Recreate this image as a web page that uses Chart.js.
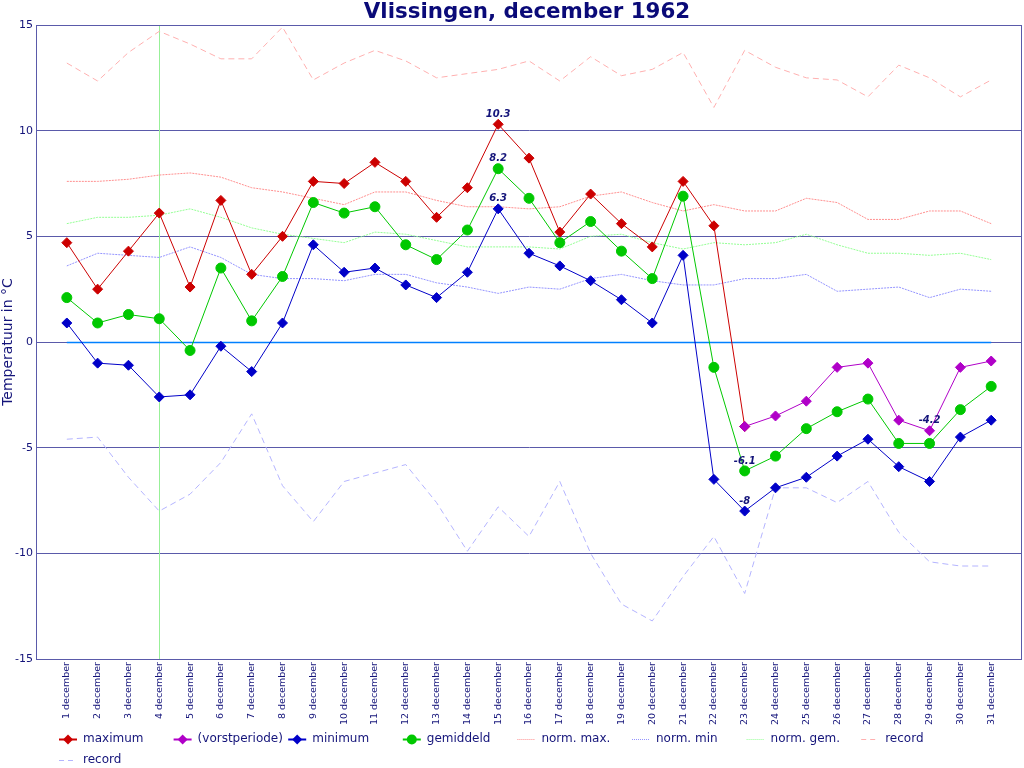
<!DOCTYPE html>
<html>
<head>
<meta charset="utf-8">
<script src="https://cdn.jsdelivr.net/npm/chart.js@4.4.0/dist/chart.umd.min.js"></script>
<style>
html,body{margin:0;padding:0;background:#fff;}
#wrap{width:1024px;height:768px;}
</style>
</head>
<body>
<div id="wrap"><canvas id="c" width="1024" height="768"></canvas></div>
<script>
// ---- data ----
const days = [1,2,3,4,5,6,7,8,9,10,11,12,13,14,15,16,17,18,19,20,21,22,23,24,25,26,27,28,29,30,31];
const dayLabels = days.map(d => d + ' december');
const maximum   = [4.7,2.5,4.3,6.1,2.6,6.7,3.2,5.0,7.6,7.5,8.5,7.6,5.9,7.3,10.3,8.7,5.2,7.0,5.6,4.5,7.6,5.5,-4.0,-3.5,-2.8,-1.2,-1.0,-3.7,-4.2,-1.2,-0.9];
const vorstStart = 23;
const minimum   = [0.9,-1.0,-1.1,-2.6,-2.5,-0.2,-1.4,0.9,4.6,3.3,3.5,2.7,2.1,3.3,6.3,4.2,3.6,2.9,2.0,0.9,4.1,-6.5,-8.0,-6.9,-6.4,-5.4,-4.6,-5.9,-6.6,-4.5,-3.7];
const gemiddeld = [2.1,0.9,1.3,1.1,-0.4,3.5,1.0,3.1,6.6,6.1,6.4,4.6,3.9,5.3,8.2,6.8,4.7,5.7,4.3,3.0,6.9,-1.2,-6.1,-5.4,-4.1,-3.3,-2.7,-4.8,-4.8,-3.2,-2.1];
const normMax   = [7.6,7.6,7.7,7.9,8.0,7.8,7.3,7.1,6.8,6.5,7.1,7.1,6.7,6.4,6.4,6.3,6.4,6.9,7.1,6.6,6.2,6.5,6.2,6.2,6.8,6.6,5.8,5.8,6.2,6.2,5.6];
const normMin   = [3.6,4.2,4.1,4.0,4.5,4.0,3.2,3.0,3.0,2.9,3.2,3.2,2.8,2.6,2.3,2.6,2.5,3.0,3.2,2.9,2.7,2.7,3.0,3.0,3.2,2.4,2.5,2.6,2.1,2.5,2.4];
const normGem   = [5.6,5.9,5.9,6.0,6.3,5.9,5.4,5.1,4.9,4.7,5.2,5.1,4.8,4.5,4.5,4.5,4.4,5.0,5.1,4.7,4.4,4.7,4.6,4.7,5.1,4.6,4.2,4.2,4.1,4.2,3.9];
const recordMax = [13.2,12.35,13.7,14.7,14.1,13.4,13.4,14.9,12.4,13.2,13.8,13.3,12.5,12.7,12.9,13.3,12.35,13.5,12.6,12.9,13.7,11.1,13.8,13.0,12.5,12.4,11.6,13.1,12.5,11.6,12.4];
const recordMin = [-4.6,-4.5,-6.4,-8.0,-7.2,-5.7,-3.4,-6.8,-8.5,-6.6,-6.2,-5.8,-7.6,-9.9,-7.8,-9.2,-6.6,-10.0,-12.4,-13.2,-11.1,-9.2,-11.9,-6.9,-6.9,-7.6,-6.6,-9.0,-10.4,-10.6,-10.6];
const yMin = -15, yMax = 15, yStep = 5;
const markerDay = 4;

// ---- helpers ----
const NAVY = '#14147a';
const GRID = '#5a5aaa';
const FONT = "'DejaVu Sans', sans-serif";
const pts = (arr, from, to) => days.map((d, i) => ({x: d, y: arr[i]})).filter(p => p.x >= (from || 1) && p.x <= (to || 31));

const datasets = [
  {label:'maximum', data: pts(maximum, 1, vorstStart), borderColor:'#cc0000', backgroundColor:'#cc0000',
   pointStyle:'rectRot', pointRadius:5, borderWidth:1, order:2},
  {label:'(vorstperiode)', data: pts(maximum, vorstStart, 31), borderColor:'#b000c8', backgroundColor:'#b000c8',
   pointStyle:'rectRot', pointRadius:5, borderWidth:1, order:1},
  {label:'minimum', data: pts(minimum), borderColor:'#0000c8', backgroundColor:'#0000c8',
   pointStyle:'rectRot', pointRadius:5, borderWidth:1, order:3},
  {label:'gemiddeld', data: pts(gemiddeld), borderColor:'#00c800', backgroundColor:'#00c800',
   pointStyle:'circle', pointRadius:5, borderWidth:1, order:4},
  {label:'norm. max.', data: pts(normMax), borderColor:'#ff8f8f', borderDash:[2,1], pointRadius:0, borderWidth:1, order:10},
  {label:'norm. min', data: pts(normMin), borderColor:'#9494ff', borderDash:[2,1], pointRadius:0, borderWidth:1, order:10},
  {label:'norm. gem.', data: pts(normGem), borderColor:'#94ff94', borderDash:[2,1], pointRadius:0, borderWidth:1, order:10},
  {label:'record', data: pts(recordMax), borderColor:'#ffb0b0', borderDash:[6,4], pointRadius:0, borderWidth:1, order:10},
  {label:'record', data: pts(recordMin), borderColor:'#b4b4ff', borderDash:[6,4], pointRadius:0, borderWidth:1, order:10}
];
datasets.forEach(ds => { ds.tension = 0; ds.fill = false; ds.pointBorderColor = ds.borderColor; ds.pointBackgroundColor = ds.backgroundColor || ds.borderColor; });

// plot frame, zero line, marker line, value labels, legend
const decoPlugin = {
  id: 'deco',
  afterLayout(chart) {
    const R = chart.width - 2, a = chart.chartArea, x = chart.scales.x;
    a.right = R; a.width = R - a.left;
    x.right = R; x.width = R - x.left;
    x.configure();
  },
  beforeDatasetsDraw(chart) {
    const {ctx, chartArea: a, scales: {x, y}} = chart;
    ctx.save();
    ctx.strokeStyle = '#98f098';
    ctx.lineWidth = 1;
    const vx = Math.round(x.getPixelForValue(markerDay)) + 0.5;
    ctx.beginPath(); ctx.moveTo(vx, a.top); ctx.lineTo(vx, a.bottom); ctx.stroke();
    const zy = Math.round(y.getPixelForValue(0)) + 0.5;
    ctx.strokeStyle = '#0080ff';
    ctx.lineWidth = 1.5;
    ctx.beginPath(); ctx.moveTo(x.getPixelForValue(days[0]), zy); ctx.lineTo(x.getPixelForValue(days[days.length-1]), zy); ctx.stroke();
    ctx.strokeStyle = GRID;
    ctx.lineWidth = 1;
    ctx.strokeRect(Math.round(a.left) + 0.5, Math.round(a.top) + 0.5, Math.round(a.right - a.left) - 1, Math.round(a.bottom - a.top));
    ctx.restore();
  },
  afterDatasetsDraw(chart) {
    const {ctx, scales: {x, y}} = chart;
    ctx.save();
    ctx.fillStyle = NAVY;
    ctx.font = "italic bold 10px " + FONT;
    ctx.textAlign = 'center';
    ctx.textBaseline = 'middle';
    [maximum, gemiddeld, minimum].forEach(arr => {
      let iMax = 0, iMin = 0;
      arr.forEach((v, i) => { if (v > arr[iMax]) iMax = i; if (v < arr[iMin]) iMin = i; });
      [iMax, iMin].forEach(i => {
        ctx.fillText(String(arr[i]), x.getPixelForValue(days[i]), y.getPixelForValue(arr[i]) - 10);
      });
    });
    ctx.restore();
  },
  afterDraw(chart) {
    const {ctx} = chart;
    ctx.save();
    const colW = 114.6, x0 = 59, rowY = [739, 760], perRow = 8;
    chart.data.datasets.forEach((ds, i) => {
      const col = i % perRow, row = Math.floor(i / perRow);
      const lx = x0 + col * colW, ly = rowY[row];
      ctx.strokeStyle = ds.borderColor;
      ctx.lineWidth = ds.pointRadius ? 2 : 1;
      ctx.setLineDash(ds.borderDash ? (ds.borderDash[0] > 2 ? [5,4] : [1,1]) : []);
      ctx.beginPath(); ctx.moveTo(lx, ly + 0.5); ctx.lineTo(lx + 18, ly + 0.5); ctx.stroke();
      ctx.setLineDash([]);
      if (ds.pointRadius) {
        ctx.fillStyle = ds.backgroundColor;
        ctx.beginPath();
        const cx = lx + 9, r = 5;
        if (ds.pointStyle === 'circle') { ctx.arc(cx, ly + 0.5, r, 0, Math.PI * 2); }
        else { ctx.moveTo(cx - r, ly + 0.5); ctx.lineTo(cx, ly + 0.5 - r); ctx.lineTo(cx + r, ly + 0.5); ctx.lineTo(cx, ly + 0.5 + r); ctx.closePath(); }
        ctx.fill();
      }
      ctx.fillStyle = NAVY;
      ctx.font = "12px " + FONT;
      ctx.textAlign = 'left';
      ctx.textBaseline = 'middle';
      ctx.fillText(ds.label, lx + 24, ly);
    });
    ctx.restore();
  }
};

new Chart(document.getElementById('c'), {
  type: 'line',
  data: { datasets },
  plugins: [decoPlugin],
  options: {
    responsive: false,
    animation: false,
    events: [],
    layout: { padding: {left: 0, right: 2, top: 0, bottom: 39} },
    plugins: {
      legend: { display: false },
      tooltip: { enabled: false },
      title: {
        display: true, text: 'Vlissingen, december 1962', color: '#0a0a78', fullSize: false,
        font: {family: FONT, size: 21.4, weight: 'bold', lineHeight: 1}, padding: {top: 1.6, bottom: 2}
      }
    },
    scales: {
      x: {
        type: 'linear', min: 0, max: days.length + 1,
        afterBuildTicks(s) { s.ticks = s.ticks.filter(t => t.value >= 1 && t.value <= days.length); },
        afterFit(s) { s.height = 70; },
        grid: { display: false, drawTicks: false },
        border: { display: false },
        ticks: {
          stepSize: 1, autoSkip: false, minRotation: 90, maxRotation: 90, padding: 3,
          color: NAVY, font: {family: FONT, size: 9.5},
          callback: v => dayLabels[v - 1]
        }
      },
      y: {
        min: yMin, max: yMax,
        afterFit(s) { s.width = 36; },
        grid: { color: GRID, lineWidth: 1, drawTicks: false },
        border: { display: true, color: GRID },
        ticks: { stepSize: yStep, padding: 3, color: NAVY, font: {family: FONT, size: 11} },
        title: { display: true, text: 'Temperatuur in °C', color: NAVY, font: {family: FONT, size: 14}, padding: 0 }
      }
    }
  }
});
</script>
</body>
</html>
